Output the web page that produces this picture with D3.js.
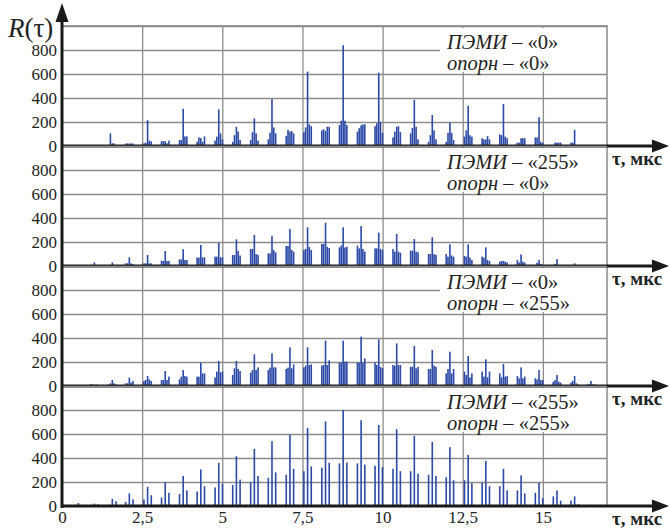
<!DOCTYPE html>
<html>
<head>
<meta charset="utf-8">
<script src="https://cdn.jsdelivr.net/npm/d3@7/dist/d3.min.js"></script>
</head>
<body style="margin:0">
<script>
// centres of the pulse groups along τ (мкс) and bar offsets inside a group
const clusterCenters = [0.51, 1.01, 1.57, 2.10, 2.67, 3.22, 3.78, 4.33, 4.89, 5.44,
  6.00, 6.55, 7.11, 7.66, 8.22, 8.77, 9.33, 9.88, 10.44, 10.99,
  11.55, 12.10, 12.67, 13.22, 13.77, 14.32, 14.88, 15.44, 15.99, 16.50];
const barOffsets = [-0.115, -0.06, 0, 0.055, 0.115];

// R(τ) values, one row of five bars per group
const pemi0Opor0 = [
  [0,0,0,0,0], [0,0,0,0,0], [0,105,22,22,0], [20,22,20,22,20], [22,28,215,45,38],
  [40,40,40,22,45], [50,50,310,80,80], [35,72,65,35,80], [45,78,305,105,55], [35,90,160,120,50],
  [50,115,230,105,45], [55,110,390,155,105], [85,135,120,125,105], [115,155,620,180,165], [130,140,125,160,160],
  [175,210,840,210,175], [120,148,172,180,180], [165,190,610,200,110], [72,120,160,165,115], [105,150,385,160,55],
  [35,90,258,130,55], [35,110,195,110,50], [78,130,335,90,78], [65,55,55,83,55], [97,90,350,78,65],
  [28,28,65,65,65], [72,72,240,35,28], [8,28,28,28,28], [28,28,135,8,0], [4,4,5,4,4]
];
const pemi255Opor0 = [
  [0,0,0,0,0], [0,0,30,0,0], [0,0,30,0,0], [22,22,72,22,17], [22,22,92,22,22],
  [45,42,125,42,42], [55,55,140,50,50], [70,70,175,72,72], [78,78,195,72,72], [92,92,222,125,87],
  [142,142,258,100,92], [105,105,250,133,114], [167,167,308,133,120], [133,142,322,160,133], [183,183,360,160,150],
  [155,170,322,155,160], [170,147,333,142,120], [147,147,278,142,133], [142,120,267,120,111], [128,128,225,120,114],
  [100,100,240,100,92], [100,78,180,87,78], [83,78,180,70,50], [78,70,155,50,42], [36,42,42,36,30],
  [50,30,97,36,28], [0,28,50,17,0], [0,17,58,0,0], [0,0,22,0,0], [0,0,0,0,0]
];
const pemi0Opor255 = [
  [0,0,5,0,0], [14,14,0,14,0], [14,22,50,22,14], [22,22,70,28,42], [42,50,83,55,42],
  [50,50,125,50,78], [55,78,133,83,78], [78,78,195,105,105], [72,120,208,114,120], [92,147,208,142,125],
  [111,133,264,133,155], [133,153,272,155,155], [142,153,322,147,180], [155,170,322,175,180], [170,175,378,175,214],
  [195,195,378,203,203], [195,195,411,195,230], [195,175,389,160,150], [175,170,355,175,175], [160,160,333,147,160],
  [142,142,300,170,160], [105,142,286,105,142], [120,92,250,72,105], [120,78,222,72,120], [105,72,183,78,83],
  [83,64,155,64,78], [64,55,133,50,50], [36,50,92,36,28], [28,42,83,22,14], [14,14,42,14,14]
];
const pemi255Opor255 = [
  [0,0,25,0,0], [0,0,20,0,15], [10,0,60,0,40], [35,0,105,0,55], [55,0,160,0,90],
  [70,0,200,0,110], [100,0,250,0,130], [120,0,305,0,165], [155,0,360,0,185], [175,0,415,0,220],
  [200,0,475,0,250], [235,0,540,0,280], [260,0,595,0,310], [290,0,650,0,330], [320,0,705,0,360],
  [355,0,800,0,362], [355,0,715,0,345], [335,0,675,0,325], [310,0,640,0,290], [290,0,585,0,270],
  [260,0,535,0,250], [240,0,490,0,215], [215,0,425,0,190], [195,0,375,0,165], [165,0,310,0,130],
  [130,0,255,0,105], [110,0,195,0,65], [80,0,130,0,45], [45,0,80,0,15], [8,0,10,0,8]
];

const pemiLabels = ["«0»", "«255»", "«0»", "«255»"];
const oporLabels = ["«0»", "«0»", "«255»", "«255»"];
const yTicks = [0, 200, 400, 600, 800];
const yGrid = [200, 400, 600, 800, 1000];
const xTicks = [0, 2.5, 5, 7.5, 10, 12.5, 15];

const panels = [pemi0Opor0, pemi255Opor0, pemi0Opor255, pemi255Opor255];

const width = 670, height = 529;
const top0 = 26, panelH = 120;
const bottom = top0 + panelH * panels.length;

function font(sel, size, weight) {
  sel.style("font-family", "'Liberation Serif'").style("font-size", size + "px");
  if (weight) sel.style("font-weight", weight);
  return sel;
}

const svg = d3.select("body").append("svg")
    .attr("width", width)
    .attr("height", height)
    .style("display", "block");

const x = d3.scaleLinear().domain([0, 17]).range([62, 607]);
const y = d3.scaleLinear().domain([0, 1000]).range([panelH, 0]);

// vertical grid through all panels
svg.append("g")
    .attr("transform", `translate(0,${bottom})`)
    .call(d3.axisBottom(x).tickValues(xTicks.slice(1)).tickSize(-(bottom - top0)).tickFormat(""))
    .call(g => g.select(".domain").remove())
    .call(g => g.selectAll("line").attr("stroke", "#8c8c8c").attr("stroke-width", 1.3));

// top and right frame
svg.append("path")
    .attr("d", `M${x(0)},${top0}H${x(17)}V${bottom}`)
    .attr("fill", "none")
    .attr("stroke", "#7a7a7a")
    .attr("stroke-width", 1.3);

panels.forEach((vals, i) => {
  const g = svg.append("g").attr("transform", `translate(0,${top0 + i * panelH})`);

  g.append("g")
      .attr("transform", `translate(${x(0)},0)`)
      .call(d3.axisLeft(y).tickValues(yGrid).tickSize(-(x(17) - x(0))).tickFormat(""))
      .call(a => a.select(".domain").remove())
      .call(a => a.selectAll("line").attr("stroke", "#8c8c8c").attr("stroke-width", 1.3));

  const bars = [];
  vals.forEach((row, c) => row.forEach((v, k) => {
    if (v > 0) bars.push({t: clusterCenters[c] + barOffsets[k], v});
  }));

  g.selectAll("rect.bar")
    .data(bars)
    .enter().append("rect")
      .attr("class", "bar")
      .attr("x", d => x(d.t) - 0.8)
      .attr("width", 1.6)
      .attr("y", d => y(d.v))
      .attr("height", d => y(0) - y(d.v))
      .attr("fill", "#2c4aa6");

  // legend box
  g.append("rect")
      .attr("x", 440).attr("y", 2)
      .attr("width", 166).attr("height", 44)
      .attr("fill", "#fff");

  const t1 = font(g.append("text").attr("x", 447).attr("y", 23), 20.5).attr("fill", "#222");
  t1.append("tspan").style("font-style", "italic").text("ПЭМИ");
  t1.append("tspan").text(" – " + pemiLabels[i]);
  const t2 = font(g.append("text").attr("x", 447).attr("y", 44), 20.5).attr("fill", "#222");
  t2.append("tspan").style("font-style", "italic").text("опорн");
  t2.append("tspan").text(" – " + oporLabels[i]);

  // y tick labels
  g.append("g")
      .attr("transform", `translate(${x(0)},0)`)
      .call(d3.axisLeft(y).tickValues(yTicks).tickSize(0).tickPadding(5))
      .call(a => a.select(".domain").remove())
      .call(a => font(a.selectAll("text"), 17).attr("fill", "#222"));

  // zero line with arrow
  g.append("line")
      .attr("x1", x(0)).attr("x2", 656)
      .attr("y1", y(0)).attr("y2", y(0))
      .attr("stroke", "#1a1a1a")
      .attr("stroke-width", 3);
  g.append("path")
      .attr("d", `M652,${y(0) - 6.5}L669,${y(0)}L652,${y(0) + 6.5}Z`)
      .attr("fill", "#1a1a1a");

  font(g.append("text").attr("x", 612).attr("y", y(0) + 19), 19, "bold")
      .attr("fill", "#222")
      .text("τ, мкс");
});

// y axis with arrow
svg.append("line")
    .attr("x1", x(0)).attr("x2", x(0))
    .attr("y1", 18).attr("y2", bottom + 2)
    .attr("stroke", "#1a1a1a")
    .attr("stroke-width", 3);
svg.append("path")
    .attr("d", `M${x(0) - 6.5},22L${x(0)},3L${x(0) + 6.5},22Z`)
    .attr("fill", "#1a1a1a");

const rl = font(svg.append("text").attr("x", 8).attr("y", 37), 27).attr("fill", "#222");
rl.append("tspan").style("font-style", "italic").text("R");
rl.append("tspan").text("(τ)");

// bottom tick labels
svg.append("g")
    .attr("transform", `translate(0,${bottom})`)
    .call(d3.axisBottom(x).tickValues(xTicks).tickSize(0).tickPadding(5)
        .tickFormat(d => String(d).replace(".", ",")))
    .call(a => a.select(".domain").remove())
    .call(a => font(a.selectAll("text"), 17).attr("fill", "#222"));
</script>
</body>
</html>
